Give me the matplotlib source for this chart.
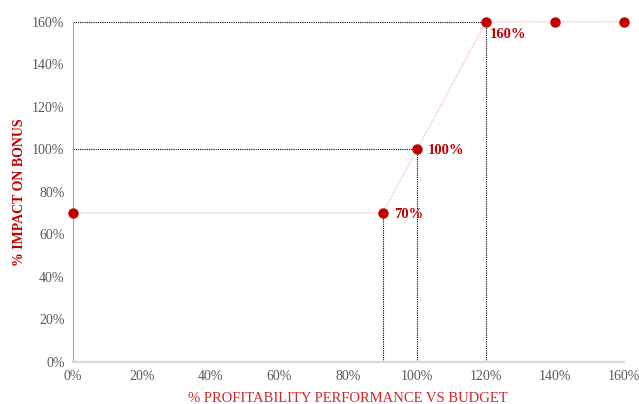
import matplotlib.pyplot as plt
from matplotlib.ticker import FuncFormatter

plt.rcParams['font.family'] = ['Liberation Serif', 'DejaVu Serif']

# bonus curve
performance = [0, 90, 100, 120, 140, 160]
impact = [70, 70, 100, 160, 160, 160]

# points that get a label and guide lines
label_x = [90, 100, 120]
label_y = [70, 100, 160]
label_txt = ['70%', '100%', '160%']

red = '#C00000'

fig = plt.figure(figsize=(6.39, 4.04), dpi=100)
ax = fig.add_axes([0.114, 0.104, 0.862, 0.842])

# guide lines to the axes
for x, y in zip(label_x, label_y):
    ax.plot([x, x], [0, y], color='black', lw=0.8, ls=(0, (1, 1)), zorder=1)
for x, y in zip(label_x[1:], label_y[1:]):
    ax.plot([0, x], [y, y], color='black', lw=0.8, ls=(0, (1, 1)), zorder=1)

ax.plot(performance, impact, color='#F4B6B6', lw=0.9, ls=(0, (1, 1)), zorder=2)
ax.plot(performance, impact, ls='none', marker='o', ms=6.5, color=red, zorder=3)

ax.annotate(label_txt[0], (label_x[0], label_y[0]), xytext=(8, -1), textcoords='offset points',
            color=red, fontweight='bold', fontsize=10.5, va='center', ha='left')
ax.annotate(label_txt[1], (label_x[1], label_y[1]), xytext=(8, -1), textcoords='offset points',
            color=red, fontweight='bold', fontsize=10.5, va='center', ha='left')
ax.annotate(label_txt[2], (label_x[2], label_y[2]), xytext=(3, -9), textcoords='offset points',
            color=red, fontweight='bold', fontsize=10.5, va='center', ha='left')

ax.set_xlim(0, 160)
ax.set_ylim(0, 160)
ax.set_xticks(range(0, 161, 20))
ax.set_yticks(range(0, 161, 20))
pct = FuncFormatter(lambda v, p: f'{v:.0f}%')
ax.xaxis.set_major_formatter(pct)
ax.yaxis.set_major_formatter(pct)
ax.tick_params(length=0, labelsize=10, labelcolor='#595959', pad=6)

for s in ['top', 'right']:
    ax.spines[s].set_visible(False)
ax.spines['left'].set_color('#A6A6A6')
ax.spines['left'].set_linewidth(0.8)
ax.spines['bottom'].set_color('#D9D9D9')
ax.spines['bottom'].set_linewidth(1.6)

ax.set_xlabel('% PROFITABILITY PERFORMANCE VS BUDGET', color='#D02828', fontsize=10.5, labelpad=6)
ax.set_ylabel('% IMPACT ON BONUS', color=red, fontweight='bold', fontsize=10, labelpad=4)
for line in ax.lines:
    line.set_clip_on(False)

fig.savefig('out.png', dpi=100)
